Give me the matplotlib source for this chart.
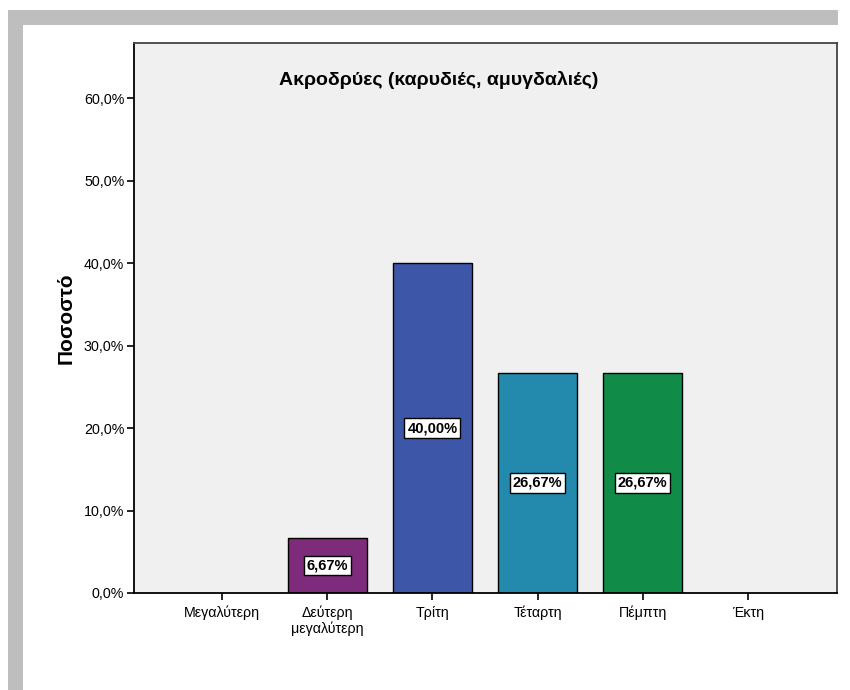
import numpy as np
import matplotlib.pyplot as plt
from matplotlib.patches import Rectangle

plt.rcParams['font.family'] = ['Liberation Sans', 'DejaVu Sans']

categories = ['Μεγαλύτερη', 'Δεύτερη\nμεγαλύτερη', 'Τρίτη', 'Τέταρτη', 'Πέμπτη', 'Έκτη']
percent = [0.0, 6.67, 40.00, 26.67, 26.67, 0.0]
colors = ['#7e2b7c', '#7e2b7c', '#3e56a8', '#238aad', '#108c48', '#108c48']
yticks = [0, 10, 20, 30, 40, 50, 60]

fig = plt.figure(figsize=(8.5, 6.9), dpi=100)
W, H = 850, 690

# gray frame on top and left
fig.patches.append(Rectangle((8 / W, 1 - 25 / H), 830 / W, 15 / H, transform=fig.transFigure,
                             facecolor='#bebebe', edgecolor='none', zorder=0))
fig.patches.append(Rectangle((8 / W, 0), 15 / W, 1 - 10 / H, transform=fig.transFigure,
                             facecolor='#bebebe', edgecolor='none', zorder=0))

ax = fig.add_axes([134 / W, 1 - 593 / H, 703 / W, 550 / H])
ax.set_facecolor('#f0f0f0')

x = np.arange(len(categories))
for i, v in enumerate(percent):
    if v <= 0:
        continue
    ax.bar(x[i], v, width=0.75, color=colors[i], edgecolor='black', linewidth=1, zorder=2)
    ax.text(x[i], v / 2, f'{v:.2f}%'.replace('.', ','), ha='center', va='center',
            fontsize=10.5, fontweight='bold', zorder=3,
            bbox=dict(boxstyle='square,pad=0.2', facecolor='white', edgecolor='black', linewidth=1))

ax.set_xlim(-0.84, 5.85)
ax.set_ylim(0, 66.67)
ax.set_xticks(x)
ax.set_xticklabels(categories, fontsize=10.3, linespacing=1.1)
ax.set_yticks(yticks)
ax.set_yticklabels([f'{t:.1f}%'.replace('.', ',') for t in yticks], fontsize=10.3)
ax.tick_params(axis='both', length=5, width=1.2, color='black', pad=2)
ax.tick_params(axis='x', pad=4)

for side in ['left', 'bottom']:
    ax.spines[side].set_linewidth(1.3)
    ax.spines[side].set_color('black')
for side in ['top', 'right']:
    ax.spines[side].set_linewidth(1.3)
    ax.spines[side].set_color('#444444')

ax.set_ylabel('Ποσοστό', fontsize=15, fontweight='bold', labelpad=6)
ax.text(0.434, 0.933, 'Ακροδρύες (καρυδιές, αμυγδαλιές)', transform=ax.transAxes,
        ha='center', va='center', fontsize=14, fontweight='bold')

fig.savefig('out.png', dpi=100, facecolor='white')
